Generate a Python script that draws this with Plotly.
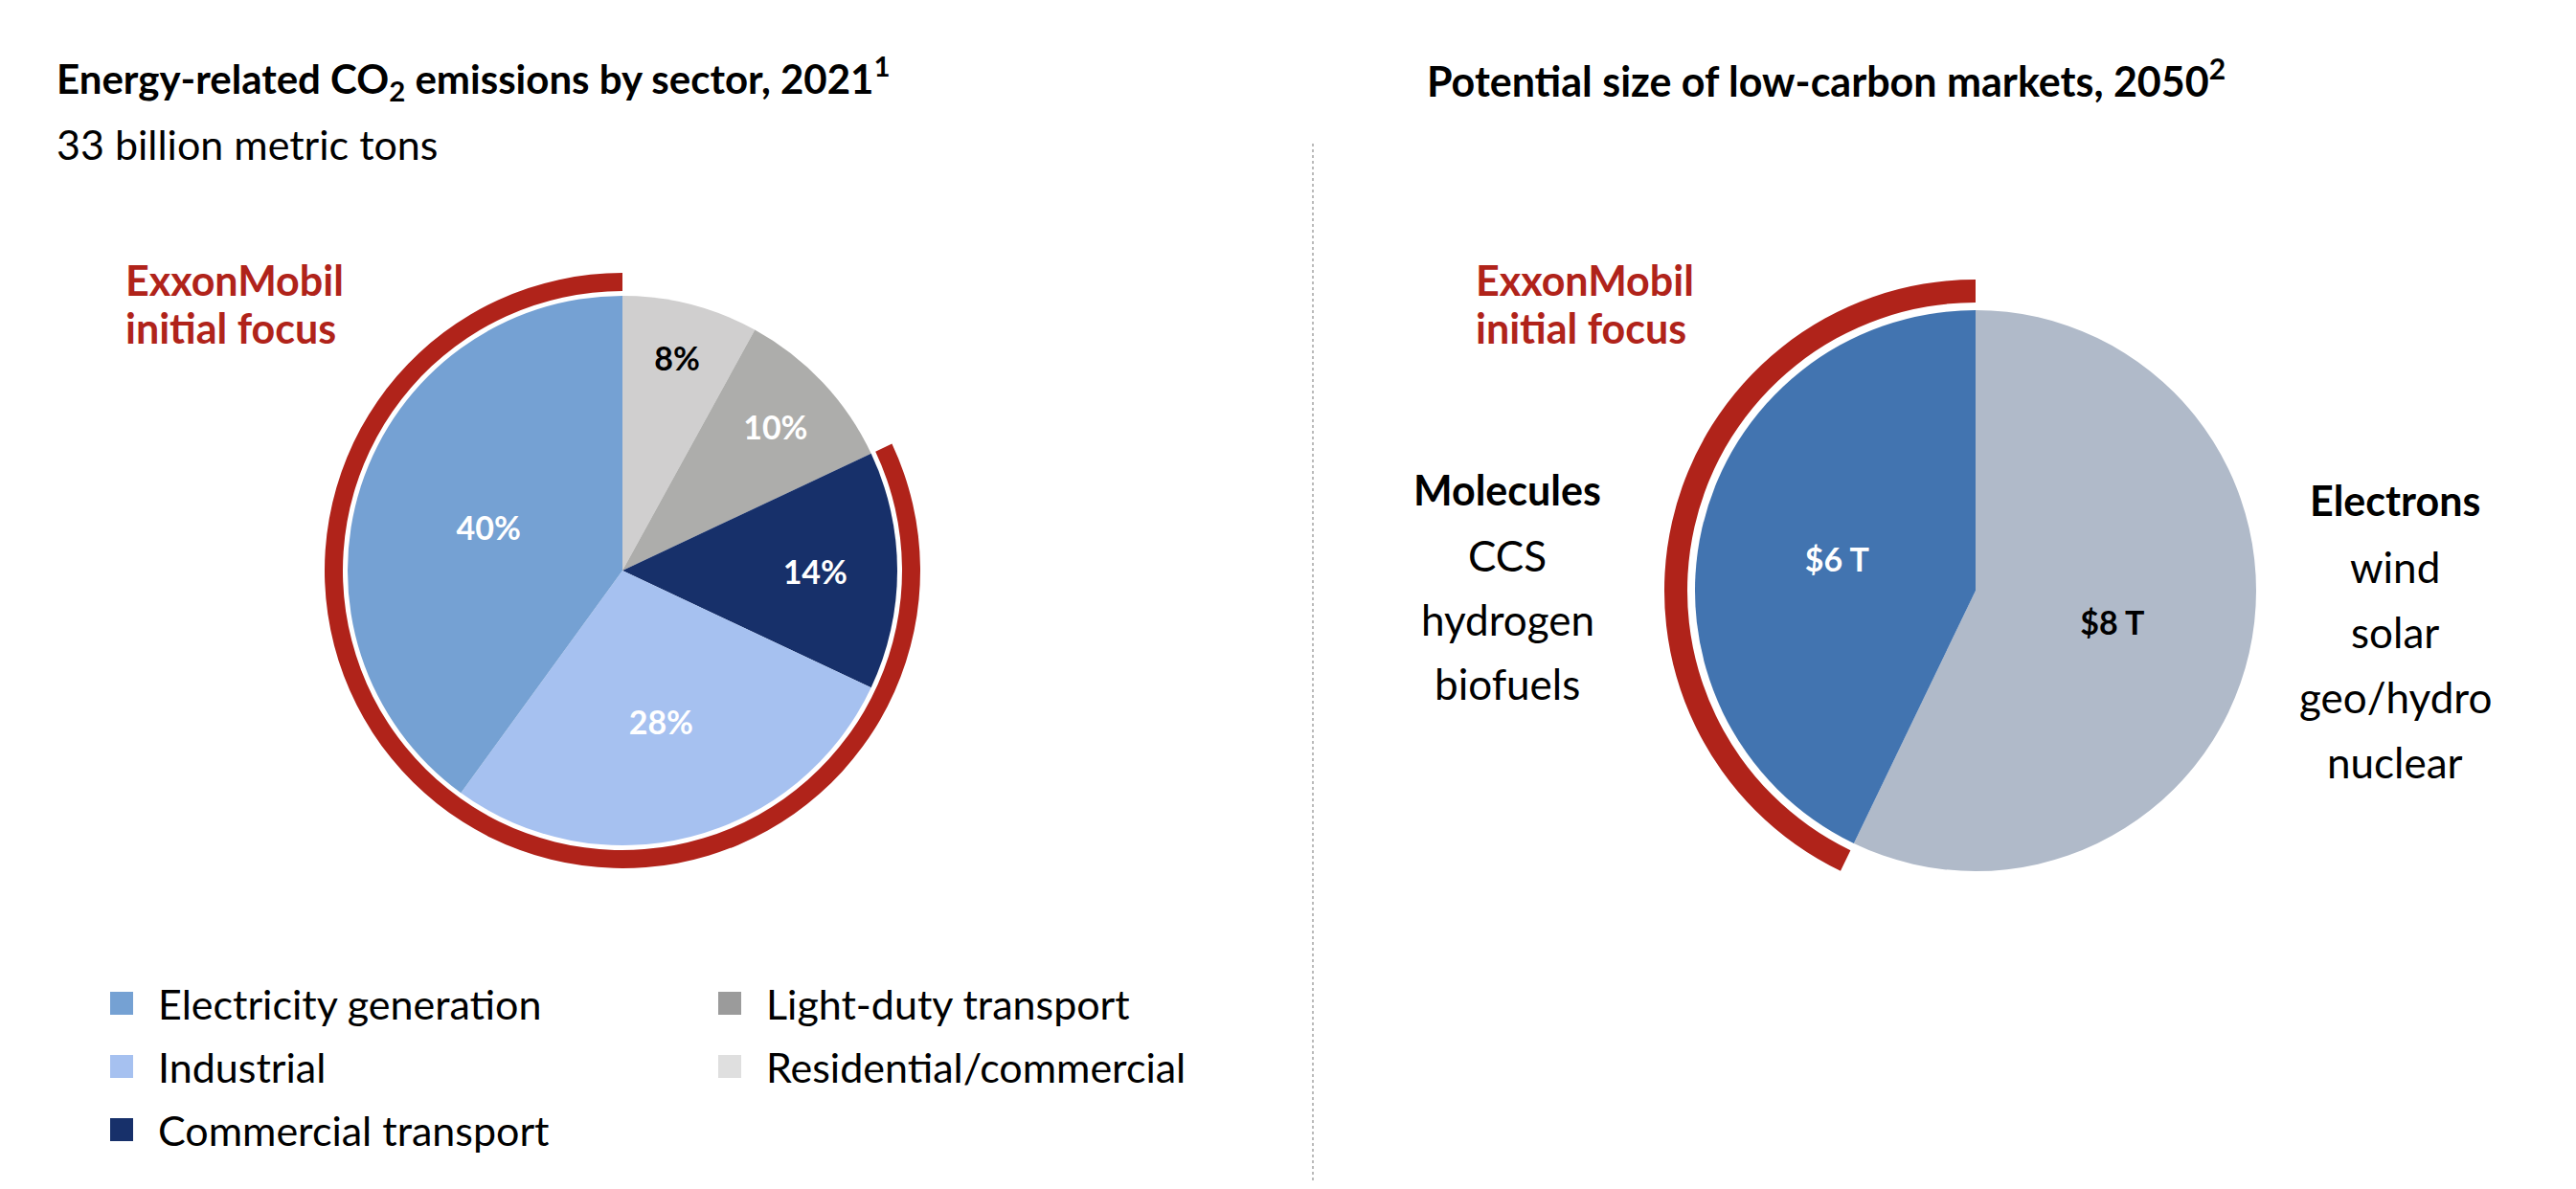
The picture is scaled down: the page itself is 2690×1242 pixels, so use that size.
import plotly.graph_objects as go

W, H = 2690, 1242
PAD = 8  # default body margin of the html page
FW, FH = W - 2 * PAD, H - 2 * PAD

# left chart: energy-related CO2 emissions by sector, 2021 (share, %)
sectors = ["Electricity generation", "Industrial", "Commercial transport",
           "Light-duty transport", "Residential/commercial"]
sector_share = [40, 28, 14, 10, 8]
sector_colors = ["#75A1D3", "#A6C1F0", "#17306A", "#ADADAB", "#D0CFCF"]
legend_colors = ["#75A1D3", "#A6C1F0", "#17306A", "#9B9B9B", "#DFDFDF"]
sector_text_colors = ["white", "white", "white", "white", "black"]
n_focus = 3  # first three sectors = ExxonMobil initial focus

# right chart: potential size of low-carbon markets, 2050 ($ trillion)
markets = ["Molecules", "Electrons"]
market_size = [6, 8]
market_colors = ["#4274B0", "#B0BAC9"]
market_text_colors = ["white", "black"]
molecules_items = ["CCS", "hydrogen", "biofuels"]
electrons_items = ["wind", "solar", "geo/hydro", "nuclear"]

RED = "#B0231A"
FONT = "Lato"
CLEAR = "rgba(0,0,0,0)"


# screen pixel -> paper helpers
def xp(x):
    return (x - PAD) / FW


def yp(y):
    return 1 - (y - PAD) / FH


def dom(cx, cy, r):
    return dict(x=[xp(cx - r), xp(cx + r)], y=[yp(cy + r), yp(cy - r)])


def txt(fig, text, x, y, size, color="black", anchor="left", bold=False):
    fig.add_annotation(text=f"<b>{text}</b>" if bold else text,
                       x=xp(x), y=yp(y), xref="paper", yref="paper",
                       xanchor=anchor, yanchor="middle", showarrow=False,
                       font=dict(family=FONT, size=size, color=color))


fig = go.Figure()

# ---- left pie + focus ring (slices run clockwise from 12 o'clock,
# so the lists are reversed to put electricity on the left)
fig.add_trace(go.Pie(
    labels=sectors[::-1], values=sector_share[::-1], sort=False,
    direction="clockwise", rotation=0,
    marker=dict(colors=sector_colors[::-1], line=dict(width=0)),
    text=[f"{v}%" for v in sector_share[::-1]], textinfo="text",
    textposition="inside", insidetextorientation="horizontal",
    textfont=dict(family=FONT, size=34, color=sector_text_colors[::-1],
                  weight="bold"),
    domain=dom(650, 596, 287), hoverinfo="skip", showlegend=False))

focus = sum(sector_share[:n_focus])
other = sum(sector_share[n_focus:])
fig.add_trace(go.Pie(
    labels=["other", "focus"], values=[other, focus], sort=False,
    direction="clockwise", rotation=0, hole=292 / 311,
    marker=dict(colors=[CLEAR, RED], line=dict(width=0)),
    textinfo="none", domain=dom(650, 596, 311),
    hoverinfo="skip", showlegend=False))

# ---- right pie + focus ring
fig.add_trace(go.Pie(
    labels=markets[::-1], values=market_size[::-1], sort=False,
    direction="clockwise", rotation=0,
    marker=dict(colors=market_colors[::-1], line=dict(width=0)),
    text=[f"${v} T" for v in market_size[::-1]], textinfo="text",
    textposition="inside", insidetextorientation="horizontal",
    textfont=dict(family=FONT, size=34, color=market_text_colors[::-1],
                  weight="bold"),
    domain=dom(2063, 617, 293), hoverinfo="skip", showlegend=False))

fig.add_trace(go.Pie(
    labels=["m_other", "m_focus"], values=market_size[::-1], sort=False,
    direction="clockwise", rotation=0, hole=301 / 325,
    marker=dict(colors=[CLEAR, RED], line=dict(width=0)),
    textinfo="none", domain=dom(2063, 617, 325),
    hoverinfo="skip", showlegend=False))

# ---- titles
txt(fig, "Energy-related CO<sub>2</sub> emissions by sector, 2021<sup>1</sup>",
    57, 81, 42, bold=True)
txt(fig, "33 billion metric tons", 57, 151, 43)
txt(fig, "Potential size of low-carbon markets, 2050<sup>2</sup>",
    1488, 81, 43, bold=True)

# ExxonMobil initial focus labels
for x0 in (129, 1539):
    txt(fig, "ExxonMobil", x0, 292, 43, color=RED, bold=True)
    txt(fig, "initial focus", x0, 343, 43, color=RED, bold=True)

# molecules / electrons lists
txt(fig, markets[0], 1574, 511, 43, anchor="center", bold=True)
for i, item in enumerate(molecules_items):
    txt(fig, item, 1574, 580 + i * 67, 44, anchor="center")
txt(fig, markets[1], 2501, 523, 43, anchor="center", bold=True)
for i, item in enumerate(electrons_items):
    txt(fig, item, 2501, 592 + i * 68, 44, anchor="center")

# ---- legend (two columns, drawn by hand to get the big squares)
for i, (name, col) in enumerate(zip(sectors, legend_colors)):
    c, r = divmod(i, 3)
    x0 = 115 + c * 635
    yc = 1048 + r * 66
    fig.add_shape(type="rect", xref="paper", yref="paper",
                  x0=xp(x0), x1=xp(x0 + 24), y0=yp(yc + 12), y1=yp(yc - 12),
                  fillcolor=col, line_width=0)
    txt(fig, name, x0 + 48, yc, 43)

# dotted separator
fig.add_shape(type="line", xref="paper", yref="paper",
              x0=xp(1371), x1=xp(1371), y0=yp(150), y1=0,
              line=dict(color="#BBBBBB", width=2, dash="dot"))

fig.update_layout(width=FW, height=FH, margin=dict(l=0, r=0, t=0, b=0),
                  paper_bgcolor="white", plot_bgcolor="white",
                  showlegend=False)

fig.write_html("out.html")
